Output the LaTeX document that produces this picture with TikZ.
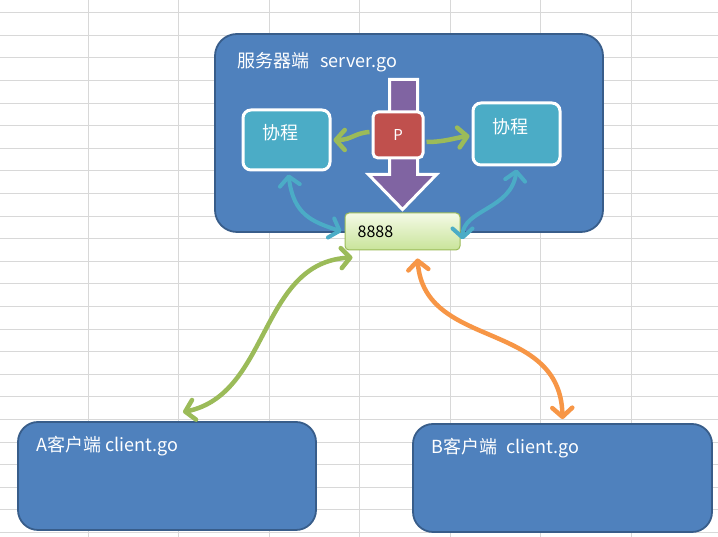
\documentclass[tikz,border=0pt]{standalone}
\usepackage{fontspec}
\newfontfamily\cjk{Noto Sans CJK SC}
\usetikzlibrary{arrows.meta,calc,positioning}

\definecolor{boxblue}{HTML}{4F81BD}
\definecolor{boxedge}{HTML}{385D8A}
\definecolor{coteal}{HTML}{4BACC6}
\definecolor{pred}{HTML}{C0504D}
\definecolor{pushpurple}{HTML}{8064A2}
\definecolor{linkgreen}{HTML}{9BBB59}
\definecolor{linkorange}{HTML}{F79646}
\definecolor{portlight}{HTML}{F4FAE6}
\definecolor{portdark}{HTML}{C9E49A}
\definecolor{gridgray}{HTML}{D8D8D8}

\tikzset{
  gridline/.style={gridgray, line width=1pt},
  bigbox/.style={draw=boxedge, fill=boxblue, line width=1.8pt, rounded corners=22pt, inner sep=0pt},
  cobox/.style={draw=white, fill=coteal, line width=3pt, rounded corners=8pt, minimum width=87pt, minimum height=60pt, inner sep=0pt},
  whitetext/.style={text=white, font=\cjk\fontsize{18}{21}\selectfont, inner sep=0pt},
  barb/.tip={Straight Barb[length=9pt,width=20pt,round]},
  link/.style={line width=4.5pt, barb-barb},
  onelink/.style={line width=4.5pt, -barb},
}

\begin{document}
\begin{tikzpicture}[x=1pt,y=1pt]
\useasboundingbox (0,0) rectangle (718,537);

% sheet grid
\foreach \gx in {88,178.5,...,632} \draw[gridline] (\gx,0) -- (\gx,537);
\foreach \k in {0,...,23} \draw[gridline] (0,{524.3-22.6*\k}) -- (718,{524.3-22.6*\k});

% server and clients
\node[bigbox, minimum width=388pt, minimum height=198pt] (server) at (409,404) {};
\node[bigbox, rounded corners=20pt, minimum width=298pt, minimum height=108pt] (clientA) at (167,61) {};
\node[bigbox, rounded corners=20pt, minimum width=299pt, minimum height=108pt] (clientB) at (562.5,59) {};
\node[whitetext, anchor=west] (servertitle) at ([shift={(23,-29)}]server.north west) {服务器端\hspace{0.6em}server.go};
\node[whitetext, anchor=west] (clientAtitle) at ([shift={(19,-25)}]clientA.north west) {A客户端 client.go};
\node[whitetext, anchor=west] (clientBtitle) at ([shift={(19,-25)}]clientB.north west) {B客户端\hspace{0.5em}client.go};

% port
\node[draw=linkgreen, line width=1pt, top color=portlight, bottom color=portdark, rounded corners=4pt,
  minimum width=115pt, minimum height=37pt] (port) at (402.5,305.5) {};
\node[anchor=west, font=\cjk\fontsize{16}{19}\selectfont, inner sep=0pt] (porttext) at ([xshift=13]port.west) {8888};

% push arrow
\coordinate (tip) at ([yshift=3]port.north);
\draw[draw=white, fill=pushpurple, line width=3pt, line join=miter]
  (tip) -- ++(34,35) -- ++(-19,0) -- ++(0,95) -- ++(-28,0) -- ++(0,-95) -- ++(-21,0) -- cycle;

% P and coroutines
\node[draw=white, fill=pred, line width=3pt, rounded corners=5pt, minimum width=50pt, minimum height=46pt,
  text=white, font=\cjk\fontsize{15}{18}\selectfont] (p) at (398,402) {P};
\node[cobox] (co1) at (286.5,397) {};
\node[cobox, minimum height=62pt] (co2) at (516.5,403) {};
\node[whitetext] (co1text) at ([shift={(-6,7)}]co1.center) {协程};
\node[whitetext] (co2text) at ([shift={(-6,7)}]co2.center) {协程};

% links
\draw[onelink, linkgreen] ([xshift=-2,yshift=3]p.west) .. controls +(-15,-1) and +(18,0) .. ([xshift=2]co1.east);
\draw[onelink, linkgreen] ([xshift=2,yshift=-7]p.east) .. controls +(18,0) and +(-15,-2) .. ([xshift=-2,yshift=-2]co2.west);
\draw[link, coteal, line width=4pt] ([xshift=2,yshift=-3]co1.south) .. controls +(5,-40) and +(-30,10) .. ([xshift=-3]port.west);
\draw[link, coteal, line width=4pt] ([yshift=-3]co2.south) .. controls +(-5,-40) and +(0,30) .. ([xshift=2,yshift=-8]port.east);
\draw[link, linkgreen] ([xshift=8,yshift=-7]port.south west) .. controls +(-93,-5) and +(87,18) .. ([xshift=16,yshift=9]clientA.north);
\draw[link, linkorange] ([xshift=15,yshift=-8]port.south) .. controls +(7,-92) and +(-2,100) .. ([yshift=4]clientB.north);

\end{tikzpicture}
\end{document}
